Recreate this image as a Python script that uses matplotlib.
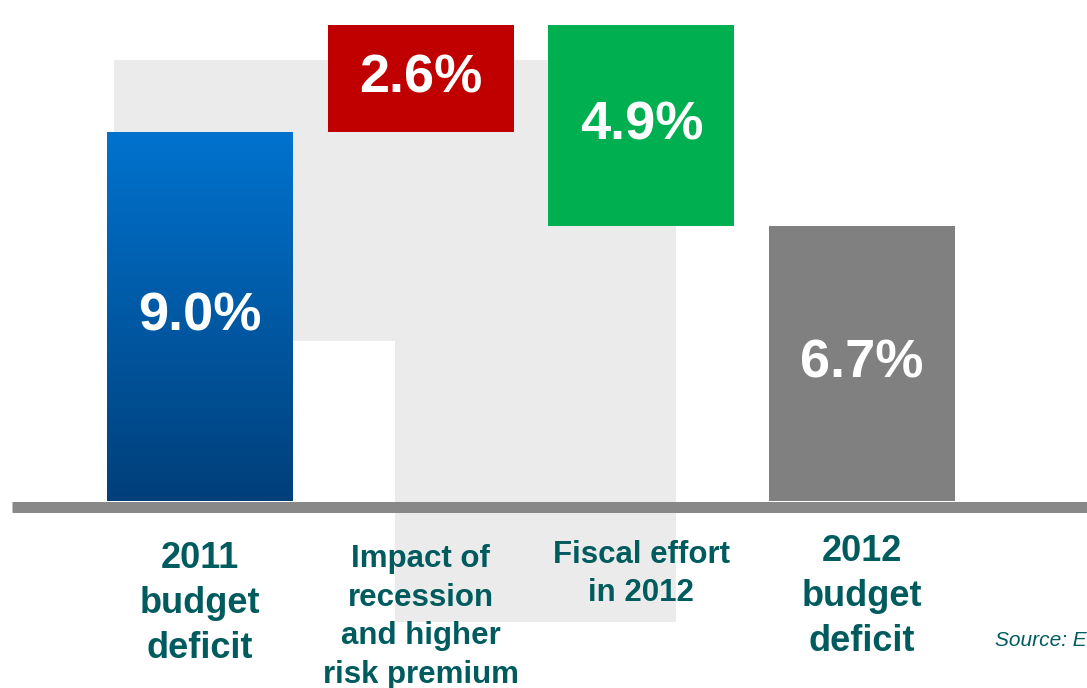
import numpy as np
import matplotlib
matplotlib.use("Agg")
import matplotlib.pyplot as plt
from matplotlib.patches import Polygon
from matplotlib.transforms import ScaledTranslation
from matplotlib.colors import LinearSegmentedColormap

plt.rcParams['font.family'] = ['Liberation Sans', 'DejaVu Sans']

# ---- data ----
categories = ["2011\nbudget\ndeficit",
              "Impact of\nrecession\nand higher\nrisk premium",
              "Fiscal effort\nin 2012",
              "2012\nbudget\ndeficit"]
changes = [9.0, 2.6, -4.9, 6.7]          # deficit, % of GDP
kinds = ["total", "delta", "delta", "total"]
value_labels = ["9.0%", "2.6%", "4.9%", "6.7%"]
source_text = "Source: E"

# ---- styles ----
colors = [None, "#C00000", "#00B050", "#808080"]
label_sizes = [26, 22.5, 22.5, 26]
label_offsets = [-29, -31, -28, -24]     # points below the baseline
text_color = "#005B5E"

W, H, DPI = 10.87, 6.88, 100
fig = plt.figure(figsize=(W, H), dpi=DPI)
fig.patch.set_facecolor("white")
ax = fig.add_axes([0, 0, 1, 1])
ax.patch.set_visible(False)
px_per_unit = 41.0
x0_px, dx_px, base_px = 200.0, 220.67, 501.0
ax.axis("off")

# decorative light-gray background shape (figure coordinates)
shape_px = [(114, 60), (676, 60), (676, 622), (395, 622), (395, 341), (114, 341)]
shape = Polygon([(x / 1087, 1 - y / 688) for x, y in shape_px], closed=True,
                transform=fig.transFigure, facecolor="#EBEBEB", edgecolor="none",
                zorder=0, clip_on=False)
ax.add_patch(shape)

# baseline
line = ax.axhline(0, xmin=12 / 1087, xmax=1, color="#888888", lw=11 * 72 / DPI,
                  solid_capstyle="butt", zorder=2)
line.set_transform(line.get_transform() + ScaledTranslation(0, -5.5 / DPI, fig.dpi_scale_trans))

# waterfall bars
width = 186 / dx_px
running = 0.0
blue_cmap = LinearSegmentedColormap.from_list("blue", ["#003F7A", "#0073CF"])
for i, (v, kind) in enumerate(zip(changes, kinds)):
    if kind == "total":
        bottom, top = 0.0, v
        running = v
    else:
        new = running + v
        bottom, top = min(running, new), max(running, new)
        running = new
    if i == 0:
        rect = ax.bar(i, top - bottom, bottom=bottom, width=width,
                      color="none", edgecolor="none", zorder=3)[0]
        grad = np.linspace(0, 1, 256).reshape(-1, 1)
        im = ax.imshow(grad, cmap=blue_cmap, aspect="auto", origin="lower",
                       extent=(i - width / 2, i + width / 2, bottom, top), zorder=3)
        im.set_clip_path(rect)
    else:
        ax.bar(i, top - bottom, bottom=bottom, width=width,
               color=colors[i], edgecolor="none", zorder=3)
    ax.text(i, (bottom + top) / 2, value_labels[i], ha="center", va="center",
            color="white", fontsize=39, fontweight="bold", zorder=5)

ax.set_xlim(-x0_px / dx_px, (1087 - x0_px) / dx_px)
ax.set_ylim(-(688 - base_px) / px_per_unit, base_px / px_per_unit)

# category labels
for i, lab in enumerate(categories):
    ax.annotate(lab, xy=(i, 0), xytext=(0, label_offsets[i]), textcoords="offset points",
                ha="center", va="top", multialignment="center",
                fontsize=label_sizes[i], fontweight="bold", color=text_color,
                linespacing=1.37, zorder=5)

# source note at the right edge
fig.text(995 / 1087, 1 - 640 / 688, source_text, ha="left", va="center",
         fontsize=15, fontstyle="italic", color=text_color)

fig.savefig("out.png", dpi=DPI, facecolor="white")
